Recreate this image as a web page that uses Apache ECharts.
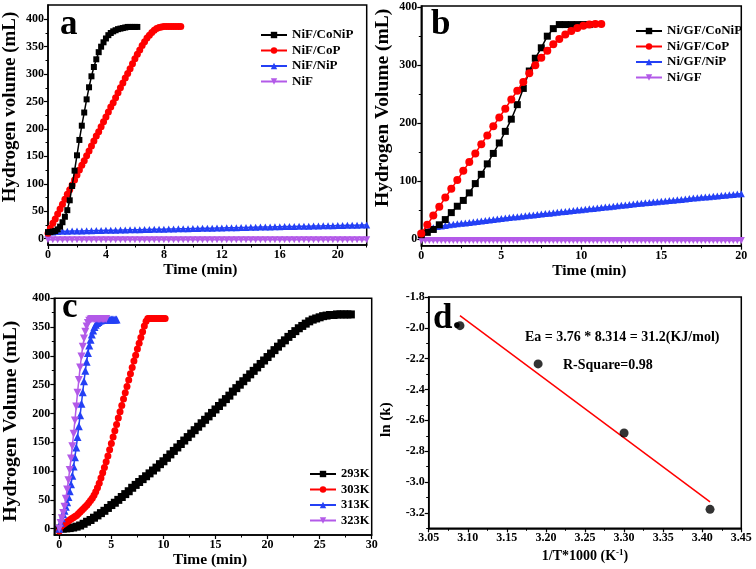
<!DOCTYPE html>
<html>
<head>
<meta charset="utf-8">
<script src="https://cdn.jsdelivr.net/npm/echarts@6/dist/echarts.min.js"></script>
<style>
  html, body { margin: 0; padding: 0; background: #fff; }
  #chart { width: 756px; height: 569px; }
</style>
</head>
<body>
<div id="chart"></div>
<script>
// ---- panel a : NiF based catalysts (time step in min) ----
var aStepFast = 1 / 6;
var aStepSlow = 1 / 3;
var aCoNiP = [12,12,13,14,17,22,30,40,52,70,96,124,152,180,206,230,254,276,296,313,327,340,350,358,365,371,375,378,380,382,383,384,385,386,386,386,386,386];
var aCoP = [10,19,28,36,45,54,63,72,81,89,98,107,116,125,134,142,151,160,169,178,187,195,204,213,222,231,240,248,257,266,275,284,293,301,310,319,328,336,344,352,359,366,371,376,380,383,385,386,387,387,387,387,387,387,387,387];
var aNiP = [9,12,13,13.5,13.7,13.9,14.1,14.2,14.4,14.6,14.8,15.0,15.2,15.4,15.6,15.7,15.9,16.1,16.3,16.5,16.7,16.8,17.0,17.2,17.4,17.6,17.8,17.9,18.1,18.3,18.5,18.7,18.9,19.0,19.2,19.4,19.6,19.8,20.0,20.1,20.3,20.5,20.7,20.9,21.1,21.2,21.4,21.6,21.8,22.0,22.2,22.3,22.5,22.7,22.9,23.1,23.3,23.4,23.6,23.8,24.0,24.2,24.4,24.5,24.7,24.9,25.1];
var aNiF = [-2,-2,-2,-2,-2,-2,-2,-2,-2,-2,-2,-2,-2,-2,-2,-2,-2,-2,-2,-2,-2,-2,-2,-2,-2,-2,-2,-2,-2,-2,-2,-2,-2,-2,-2,-2,-2,-2,-2,-2,-2,-2,-2,-2,-2,-2,-2,-2,-2,-2,-2,-2,-2,-2,-2,-2,-2,-2,-2,-2,-2,-2,-2,-2,-2,-2,-2];
var aNames = ['NiF/CoNiP', 'NiF/CoP', 'NiF/NiP', 'NiF'];
var aXTicks = [0, 4, 8, 12, 16, 20];
var aXMinor = [2, 6, 10, 14, 18, 22];
var aYTicks = [0, 50, 100, 150, 200, 250, 300, 350, 400];
var aYMinor = [25, 75, 125, 175, 225, 275, 325, 375];

// ---- panel b : Ni/GF based catalysts ----
var bStepFast = 0.375;
var bStepSlow = 0.25;
var bCoNiP = [8,12,17,25,34,46,57,67,80,96,112,130,148,166,186,207,232,260,290,312,330,350,363,370,370,370,370,370,370];
var bCoP = [10,25,41,56,72,87,102,118,133,148,164,179,195,210,225,241,256,271,286,300,313,325,336,345,353,359,364,368,370,371,371];
var bNiP = [10,15,18,20,22,23,24,25,26,26.8,27.5,28.3,29,29.9,30.8,31.6,32.5,33.4,34.3,35.1,36,36.8,37.5,38.3,39,39.8,40.5,41.3,42,42.8,43.5,44.3,45,45.8,46.5,47.3,48,48.8,49.5,50.3,51,51.8,52.5,53.3,54,54.8,55.5,56.3,57,57.8,58.5,59.3,60,60.8,61.5,62.3,63,63.6,64.3,64.9,65.5,66.1,66.8,67.4,68,68.8,69.5,70.3,71,71.6,72.3,72.9,73.5,74.1,74.8,75.4,76,76.6,77.3,77.9,78.5];
var bNiGF = [-2,-2,-2,-2,-2,-2,-2,-2,-2,-2,-2,-2,-2,-2,-2,-2,-2,-2,-2,-2,-2,-2,-2,-2,-2,-2,-2,-2,-2,-2,-2,-2,-2,-2,-2,-2,-2,-2,-2,-2,-2,-2,-2,-2,-2,-2,-2,-2,-2,-2,-2,-2,-2,-2,-2,-2,-2,-2,-2,-2,-2,-2,-2,-2,-2,-2,-2,-2,-2,-2,-2,-2,-2,-2,-2,-2,-2,-2,-2,-2,-2];
var bNames = ['Ni/GF/CoNiP', 'Ni/GF/CoP', 'Ni/GF/NiP', 'Ni/GF'];
var bXTicks = [0, 5, 10, 15, 20];
var bXMinor = [2.5, 7.5, 12.5, 17.5];
var bYTicks = [0, 100, 200, 300, 400];
var bYMinor = [50, 150, 250, 350];

// ---- panel c : temperature series ----
var c293Step = 1 / 3;
var c303Step = 1 / 6;
var c313Step = 0.125;
var c323Step = 0.125;
var c293 = [0,0,0.5,1,2,3.5,5.5,8.5,12,15,19,23,27,31,36,41,45,50,55,60,65,71,76,81,86,91,96,101,106,112,117,123,129,135,141,147,153,159,165,171,177,183,189,195,201,207,213,219,225,231,238,244,250,256,262,268,274,280,286,292,298,304,310,316,322,327,333,338,343,348,352,356,360,363,365,367,369,370,371,371,372,372,372,372,372];
var c303 = [-4,4,7,9,11,13,15,17,19,21,23,26,29,32,35,38,41,45,49,53,58,64,71,79,88,97,106,116,126,137,148,159,170,181,192,203,214,225,236,247,258,269,280,291,301,312,322,332,342,352,360,365,365,365,365,365,365,365,365,365,365,365];
var c313 = [0,10,18,25,31,38,46,55,65,77,92,108,124,141,159,178,197,217,237,256,274,290,305,318,328,337,344,350,354,357,359,361,362,363,363,363,363,363,363,363,363,363,363,363,363];
var c323 = [0,10,18,27,38,52,68,84,102,122,143,165,188,212,236,258,280,299,316,330,342,351,357,361,363,364,364,364,364,364,364,364,364,364,364,364,364];
var cNames = ['293K', '303K', '313K', '323K'];
var cXTicks = [0, 5, 10, 15, 20, 25, 30];
var cXMinor = [2.5, 7.5, 12.5, 17.5, 22.5, 27.5];
var cYTicks = [0, 50, 100, 150, 200, 250, 300, 350, 400];
var cYMinor = [25, 75, 125, 175, 225, 275, 325, 375];

// ---- panel d : Arrhenius plot ----
var dInvT = [3.09, 3.19, 3.30, 3.41];
var dLnK = [-1.986, -2.234, -2.682, -3.177];
var dFitX = [3.09, 3.41];
var dFitY = [-1.921, -3.129];
var dXTicks = [3.05, 3.10, 3.15, 3.20, 3.25, 3.30, 3.35, 3.40, 3.45];
var dXMinor = [3.075, 3.125, 3.175, 3.225, 3.275, 3.325, 3.375, 3.425];
var dYTicks = [-3.2, -3.0, -2.8, -2.6, -2.4, -2.2, -2.0, -1.8];
var dYMinor = [-3.3, -3.1, -2.9, -2.7, -2.5, -2.3, -2.1, -1.9];

var FONT = 'Liberation Serif';
var BLUE = '#2440f5';
var VIOLET = '#b35ae8';
var DOWN_TRI = 'path://M0,0L10,0L5,9Z';

function pts(values, step) {
    return values.map(function (v, i) { return [i * step, v]; });
}

// pad shifts the axis title along the axis: [top, right, bottom, left]
function mainAxis(grid, position, min, max, ticks, fmt, name, nameGap, nameSize, pad) {
    return {
        type: 'value', gridIndex: grid, position: position, min: min, max: max,
        name: name, nameLocation: 'middle', nameGap: nameGap,
        nameTextStyle: {fontFamily: FONT, fontWeight: 'bold', fontSize: nameSize, color: '#000', padding: pad},
        axisLine: {show: true, onZero: false, lineStyle: {color: '#000', width: 1.5}},
        axisTick: {show: true, inside: false, length: 4, customValues: ticks, lineStyle: {color: '#000', width: 1.2}},
        axisLabel: {show: true, customValues: ticks, margin: 4, formatter: fmt,
            fontFamily: FONT, fontWeight: 'bold', fontSize: 12, color: '#000'},
        splitLine: {show: false}
    };
}

function minorAxis(grid, position, min, max, minor) {
    return {
        type: 'value', gridIndex: grid, position: position, min: min, max: max,
        axisLine: {show: false, onZero: false},
        axisTick: {show: true, inside: false, length: 2.5, customValues: minor, lineStyle: {color: '#000', width: 1}},
        axisLabel: {show: false},
        splitLine: {show: false}
    };
}

function curve(name, color, symbol, size, data, axis, z) {
    return {
        name: name, type: 'line', xAxisIndex: axis, yAxisIndex: axis,
        data: data, symbol: symbol, symbolSize: size, showSymbol: true,
        lineStyle: {color: color, width: 1.5}, itemStyle: {color: color},
        z: z, animation: false
    };
}

function legend(names, left, top, size) {
    return {
        data: names, orient: 'vertical', left: left, top: top,
        itemWidth: 26, itemHeight: 8, itemGap: 1.5,
        textStyle: {fontFamily: FONT, fontWeight: 'bold', fontSize: size, color: '#000', lineHeight: 14}
    };
}

function intFmt(v) { return String(Math.round(v)); }
function fmt2(v) { return v.toFixed(2); }
function fmt1(v) { return v.toFixed(1); }

function label(text, left, top, size) {
    return {type: 'text', left: left, top: top,
        style: {text: text, font: 'bold ' + size + 'px "' + FONT + '"', fill: '#000'}};
}

var chart = echarts.init(document.getElementById('chart'), null, {renderer: 'canvas'});

var option = {
    backgroundColor: '#fff',
    animation: false,
    grid: [
        {left: 44.3, top: 5, width: 322.4, height: 240, show: true, borderColor: '#000', borderWidth: 1.5},
        {left: 421.3, top: 6, width: 320, height: 239.7, show: true, borderColor: '#000', borderWidth: 1.5},
        {left: 54.3, top: 298.3, width: 317.4, height: 236.7, show: true, borderColor: '#000', borderWidth: 1.5},
        {left: 428.7, top: 297, width: 312.6, height: 231.3, show: true, borderColor: '#000', borderWidth: 1.5}
    ],
    xAxis: [
        mainAxis(0, 'bottom', 0, 22, aXTicks, intFmt, 'Time (min)', 16, 15.5, [0, 14, 0, 0]),
        minorAxis(0, 'bottom', 0, 22, aXMinor),
        mainAxis(1, 'bottom', 0, 20, bXTicks, intFmt, 'Time (min)', 16, 15.5, [0, 0, 0, 16]),
        minorAxis(1, 'bottom', 0, 20, bXMinor),
        mainAxis(2, 'bottom', -0.48, 30, cXTicks, intFmt, 'Time (min)', 16, 15.5, [0, 6, 0, 0]),
        minorAxis(2, 'bottom', -0.48, 30, cXMinor),
        mainAxis(3, 'bottom', 3.05, 3.45, dXTicks, fmt2, '{n|1/T*1000 (K}{s|-1}{n|)}', 20, 14, 0),
        minorAxis(3, 'bottom', 3.05, 3.45, dXMinor)
    ],
    yAxis: [
        mainAxis(0, 'left', -11.5, 426, aYTicks, intFmt, 'Hydrogen volume (mL)', 28, 19, [0, 0, 0, 36]),
        minorAxis(0, 'left', -11.5, 426, aYMinor),
        mainAxis(1, 'left', -11, 402, bYTicks, intFmt, 'Hydrogen Volume (mL)', 28, 19.5, [0, 0, 0, 36]),
        minorAxis(1, 'left', -11, 402, bYMinor),
        mainAxis(2, 'left', -11, 400, cYTicks, intFmt, 'Hydrogen Volume (mL)', 33, 19.8, [0, 9, 0, 0]),
        minorAxis(2, 'left', -11, 400, cYMinor),
        mainAxis(3, 'left', -3.3, -1.8, dYTicks, fmt1, 'ln (k)', 35, 15, [0, 14, 0, 0]),
        minorAxis(3, 'left', -3.3, -1.8, dYMinor)
    ],
    legend: [
        legend(aNames, 255, 23, 13),
        legend(bNames, 630, 19, 13),
        legend(cNames, 304, 462, 12.5)
    ],
    series: [
        curve(aNames[0], '#000', 'rect', 6, pts(aCoNiP, aStepFast), 0, 4),
        curve(aNames[1], '#ff0000', 'circle', 7, pts(aCoP, aStepFast), 0, 3),
        curve(aNames[2], BLUE, 'triangle', 7, pts(aNiP, aStepSlow), 0, 2),
        curve(aNames[3], VIOLET, DOWN_TRI, 7, pts(aNiF, aStepSlow), 0, 2),

        curve(bNames[0], '#000', 'rect', 7, pts(bCoNiP, bStepFast), 2, 3),
        curve(bNames[1], '#ff0000', 'circle', 8, pts(bCoP, bStepFast), 2, 4),
        curve(bNames[2], BLUE, 'triangle', 7, pts(bNiP, bStepSlow), 2, 2),
        curve(bNames[3], VIOLET, DOWN_TRI, 7, pts(bNiGF, bStepSlow), 2, 2),

        curve(cNames[0], '#000', 'rect', 8, pts(c293, c293Step), 4, 2),
        curve(cNames[1], '#ff0000', 'circle', 7, pts(c303, c303Step), 4, 3),
        curve(cNames[2], BLUE, 'triangle', 8, pts(c313, c313Step), 4, 4),
        curve(cNames[3], VIOLET, DOWN_TRI, 8, pts(c323, c323Step), 4, 5),

        {
            name: 'ln(k)', type: 'scatter', xAxisIndex: 6, yAxisIndex: 6,
            data: dInvT.map(function (x, i) { return [x, dLnK[i]]; }),
            symbol: 'circle', symbolSize: 9, itemStyle: {color: '#000'}, z: 3
        },
        {
            name: 'fit', type: 'line', xAxisIndex: 6, yAxisIndex: 6,
            data: dFitX.map(function (x, i) { return [x, dFitY[i]]; }),
            showSymbol: false, symbol: 'none', lineStyle: {color: '#ff0000', width: 1.5}, z: 2
        }
    ],
    graphic: [
        label('a', 60, 7, 35),
        label('b', 431, 7, 35),
        label('c', 62, 290, 35),
        label('d.', 433, 301, 35),
        label('Ea = 3.76 * 8.314 = 31.2(KJ/mol)', 525, 330, 14),
        label('R-Square=0.98', 563, 358, 14)
    ]
};

// superscript on the Arrhenius x axis name
option.xAxis[6].nameTextStyle.rich = {
    n: {fontFamily: FONT, fontWeight: 'bold', fontSize: 14, color: '#000', lineHeight: 16},
    s: {fontFamily: FONT, fontWeight: 'bold', fontSize: 9, color: '#000', verticalAlign: 'top', lineHeight: 10}
};

chart.setOption(option);
</script>
</body>
</html>
